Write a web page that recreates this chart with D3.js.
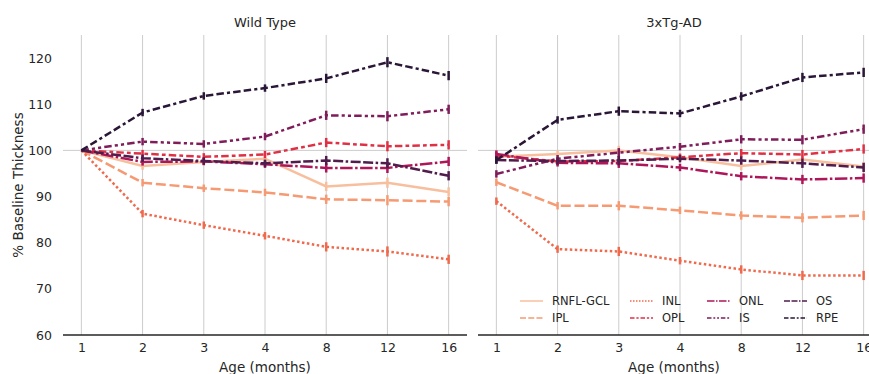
<!DOCTYPE html>
<html><head><meta charset="utf-8">
<script src="https://cdn.jsdelivr.net/npm/d3@7"></script>
<style>body{margin:0;background:#fff}svg{font-family:"DejaVu Sans",sans-serif}</style>
</head><body><svg id="c" width="869" height="374"></svg>
<script>
const ages = ["1","2","3","4","8","12","16"];
const layers = ["RNFL-GCL","IPL","INL","OPL","ONL","IS","OS","RPE"];
const colors = ["#f7bf9e","#f59a72","#ef6a4d","#df3146","#ad1759","#7e1d5a","#4f1c4c","#2a1637"];
const dashes = [[], [4,1.5], [1,1], [3,1.25,1.5,1.25], [5,1,1,1], [3,1.25,1.25,1.25,1.25,1.25], [4,1,4,1,1,1], [3,1.25,3,1.25,1.25,1.25]];
const yTicks = [60,70,80,90,100,110,120];
const panelTitles = ["Wild Type","3xTg-AD"];

// Wild Type
const wtRNFL = [100, 96.6, 97.5, 98.2, 92.2, 93.0, 91.0];
const wtIPL  = [100, 93.0, 91.8, 90.9, 89.4, 89.2, 88.9];
const wtINL  = [100, 86.3, 83.8, 81.5, 79.1, 78.1, 76.4];
const wtOPL  = [100, 99.3, 98.6, 99.1, 101.7, 100.9, 101.2];
const wtONL  = [100, 97.5, 97.6, 97.0, 96.2, 96.2, 97.6];
const wtIS   = [100, 101.9, 101.4, 103.0, 107.6, 107.4, 108.9];
const wtOS   = [100, 98.3, 97.7, 97.2, 97.8, 97.2, 94.5];
const wtRPE  = [100, 108.2, 111.8, 113.5, 115.6, 119.1, 116.2];
const wtErr  = [0, 0.8, 0.8, 0.8, 1.0, 1.1, 1.0];

// 3xTg-AD
const tgRNFL = [98.6, 99.2, 100.0, 98.5, 96.6, 98.0, 96.5];
const tgIPL  = [93.1, 88.0, 88.0, 87.0, 85.9, 85.4, 85.9];
const tgINL  = [89.0, 78.6, 78.1, 76.1, 74.2, 72.9, 72.9];
const tgOPL  = [98.9, 97.6, 97.7, 98.5, 99.4, 99.1, 100.3];
const tgONL  = [99.2, 97.3, 97.2, 96.3, 94.4, 93.7, 94.0];
const tgIS   = [94.9, 98.2, 99.5, 100.8, 102.4, 102.3, 104.6];
const tgOS   = [97.9, 97.7, 97.8, 98.2, 97.8, 97.2, 96.3];
const tgRPE  = [97.9, 106.6, 108.5, 108.0, 111.7, 115.8, 116.9];
const tgErr  = [0.8, 0.8, 1.0, 0.8, 0.9, 1.0, 1.0];

const panels = [
  {title: panelTitles[0], series: [wtRNFL,wtIPL,wtINL,wtOPL,wtONL,wtIS,wtOS,wtRPE], err: wtErr, x0: 63, x1: 467},
  {title: panelTitles[1], series: [tgRNFL,tgIPL,tgINL,tgOPL,tgONL,tgIS,tgOS,tgRPE], err: tgErr, x0: 478, x1: 882}
];

const svg = d3.select("#c");
const y = d3.scaleLinear().domain([60,125]).range([335,35]);
const txt = "#262626";
const LW = 2.5;

panels.forEach((p, pi) => {
  const x = d3.scaleLinear().domain([-0.3, ages.length - 0.7]).range([p.x0, p.x1]);
  const g = svg.append("g");
  // grid
  g.selectAll("line.vg").data(ages).join("line")
    .attr("x1",(d,i)=>x(i)).attr("x2",(d,i)=>x(i))
    .attr("y1",y(125)).attr("y2",y(60))
    .attr("stroke","#cccccc").attr("stroke-width",1);
  g.append("line").attr("x1",p.x0).attr("x2",p.x1).attr("y1",y(100)).attr("y2",y(100))
    .attr("stroke","#cccccc").attr("stroke-width",1);
  // x axis
  const xa = g.append("g").attr("transform","translate(0,335)")
    .call(d3.axisBottom(x).tickValues(d3.range(ages.length)).tickFormat(i=>ages[i]).tickSize(0).tickPadding(8));
  xa.select(".domain").attr("stroke",txt).attr("stroke-width",1.5).attr("d",`M${p.x0},0H${p.x1}`);
  xa.selectAll("text").attr("font-size",12.5).attr("fill",txt).attr("font-family","DejaVu Sans");
  if (pi === 0) {
    const ya = g.append("g").attr("transform",`translate(${p.x0},0)`)
      .call(d3.axisLeft(y).tickValues(yTicks).tickSize(0).tickPadding(11));
    ya.select(".domain").remove();
    ya.selectAll("text").attr("font-size",12.5).attr("fill",txt).attr("font-family","DejaVu Sans");
  }
  // series
  p.series.forEach((vals, si) => {
    const line = d3.line().x((d,i)=>x(i)).y(d=>y(d));
    g.append("path").datum(vals).attr("d",line).attr("fill","none")
      .attr("stroke",colors[si]).attr("stroke-width",LW)
      .attr("stroke-dasharray", dashes[si].length ? dashes[si].map(v=>v*LW).join(",") : null);
    g.selectAll(null).data(vals).join("line")
      .attr("x1",(d,i)=>x(i)).attr("x2",(d,i)=>x(i))
      .attr("y1",(d,i)=>y(d - p.err[i])).attr("y2",(d,i)=>y(d + p.err[i]))
      .attr("stroke",colors[si]).attr("stroke-width",LW);
  });
  g.append("text").attr("x",(p.x0+p.x1)/2 - (pi===1?6:0)).attr("y",27).attr("text-anchor","middle")
    .attr("font-size",13).attr("fill",txt).text(p.title);
  g.append("text").attr("x",(p.x0+p.x1)/2 - (pi===1?6:0)).attr("y",372).attr("text-anchor","middle")
    .attr("font-size",13.5).attr("fill",txt).text("Age (months)");
});

svg.append("text").attr("transform","translate(23,185) rotate(-90)").attr("text-anchor","middle")
  .attr("font-size",13.5).attr("fill",txt).text("% Baseline Thickness");

// legend (4 columns, 2 rows, column-major)
const colX = [520, 630, 707, 784];
const rowY = [301, 318];
const LLW = 1.5;
layers.forEach((name, i) => {
  const cx = colX[Math.floor(i/2)], cy = rowY[i%2];
  svg.append("line").attr("x1",cx).attr("x2",cx+23).attr("y1",cy).attr("y2",cy)
    .attr("stroke",colors[i]).attr("stroke-width",LLW)
    .attr("stroke-dasharray", dashes[i].length ? dashes[i].map(v=>v*LLW).join(",") : null);
  svg.append("text").attr("x",cx+32).attr("y",cy+4).attr("font-size",11.5).attr("fill",txt).text(name);
});
</script></body></html>
